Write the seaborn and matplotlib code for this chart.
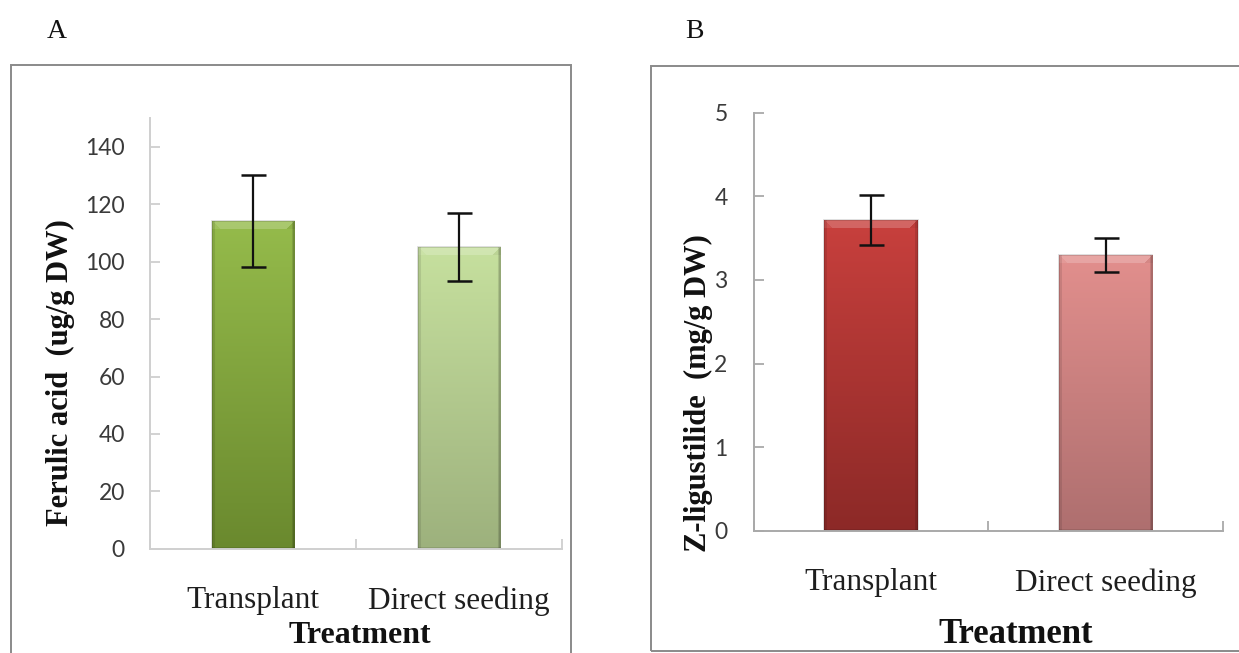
import numpy as np
import pandas as pd
import matplotlib
matplotlib.use("Agg")
import matplotlib.pyplot as plt
from matplotlib.patches import Rectangle
from matplotlib.colors import to_rgb
import seaborn as sns

# ---- data ----
treatments = ["Transplant", "Direct seeding"]
ferulic_mean = [114.2, 105.2]
ferulic_err = [15.9, 11.8]
ligustilide_mean = [3.72, 3.30]
ligustilide_err = [0.30, 0.20]
ferulic_ticks = [0, 20, 40, 60, 80, 100, 120, 140]
ligustilide_ticks = [0, 1, 2, 3, 4, 5]

# colour stops per bar: (top, bottom)
green_stops = [("#95bb4b", "#6a892e"), ("#c6e09e", "#9db17d")]
red_stops = [("#c8403d", "#8c2927"), ("#e28f8d", "#ae6f6f")]

sns.set_theme(style="white")
plt.rcParams["font.family"] = ["Liberation Serif", "DejaVu Serif"]

W, H = 1239, 653
fig = plt.figure(figsize=(W / 100, H / 100), dpi=100)
fig.patch.set_facecolor("white")


def px_axes(left, right, bottom, top):
    return fig.add_axes([left / W, 1 - bottom / H, (right - left) / W, (bottom - top) / H])


def shade_bar(ax, patch, top, bottom):
    """Fill a bar with a vertical gradient and a bevelled top edge."""
    x0, y0 = patch.get_x(), patch.get_y()
    w, h = patch.get_width(), patch.get_height()
    p0 = ax.transData.transform((x0, y0))
    p1 = ax.transData.transform((x0 + w, y0 + h))
    pw = max(int(round(abs(p1[0] - p0[0]))), 2)
    ph = max(int(round(abs(p1[1] - p0[1]))), 2)
    top, bottom = np.array(to_rgb(top)), np.array(to_rgb(bottom))
    t = np.linspace(0, 1, ph)[:, None, None]
    img = (1 - t) * top + t * bottom
    img = np.repeat(img, pw, axis=1)
    # bevelled highlight along the top
    bev = 8
    for r in range(min(bev, ph)):
        for c in range(pw):
            if r < c < pw - 1 - r:
                img[r, c] = img[r, c] * 0.8 + 0.2
            elif c <= r:
                img[r, c] = img[r, c] * 0.9 + 0.1
            else:
                img[r, c] = img[r, c] * 0.95
    # darker side edges
    side = 3
    img[:, :side] *= 0.9
    img[:, -side:] *= 0.88
    img[-2:, :] *= 0.9
    ax.imshow(np.clip(img, 0, 1), extent=(x0, x0 + w, y0, y0 + h), aspect="auto",
              origin="upper", interpolation="bilinear", zorder=2)
    patch.set_facecolor("none")
    patch.set_edgecolor((0, 0, 0, 0.15))
    patch.set_linewidth(1.2)
    patch.set_zorder(2.5)


def draw_panel(ax, means, errs, stops, ticks, ymax, ylabel, ylab_pos, xlab_pos,
               spine_color, tick_pad, xtick_size, xlabel_size, ylabel_size):
    df = pd.DataFrame({"Treatment": treatments, "value": means})
    sns.barplot(data=df, x="Treatment", y="value", hue="Treatment",
                palette=[s[0] for s in stops], width=0.4, errorbar=None,
                legend=False, ax=ax, zorder=2)
    ax.set_xlim(-0.5, 1.5)
    ax.set_ylim(0, ymax)
    for patch, (top, bottom) in zip(ax.patches, stops):
        shade_bar(ax, patch, top, bottom)
    ax.set_xlim(-0.5, 1.5)
    ax.set_ylim(0, ymax)
    ax.errorbar(x=np.arange(len(means)), y=means, yerr=errs, fmt="none",
                ecolor="#111111", elinewidth=1.6, capsize=9, capthick=1.8, zorder=4)

    for side in ("top", "right"):
        ax.spines[side].set_visible(False)
    for side in ("left", "bottom"):
        ax.spines[side].set_color(spine_color)
        ax.spines[side].set_linewidth(1.4)

    ax.set_yticks(ticks)
    ax.set_yticklabels([str(t) for t in ticks], family=["Lato", "DejaVu Sans"],
                       fontsize=16.5, color="#3a3a3a")
    ax.tick_params(axis="y", direction="in", length=7, width=1.3, color=spine_color,
                   pad=tick_pad, left=True)
    ax.set_xticks([0, 1])
    ax.set_xticklabels(treatments, fontsize=xtick_size, color="#1e1e1e")
    ax.set_xticks([-0.5, 0.5, 1.5], minor=True)
    ax.tick_params(axis="x", which="major", length=0, pad=27)
    ax.tick_params(axis="x", which="minor", direction="in", length=7, width=1.3,
                   color=spine_color, bottom=True)

    ax.set_xlabel("Treatment", fontsize=xlabel_size, fontweight="bold", color="#111111")
    ax.xaxis.set_label_coords(*xlab_pos)
    ax.set_ylabel(ylabel, fontsize=ylabel_size, fontweight="bold", color="#111111")
    ax.yaxis.label.set_verticalalignment("center")
    ax.yaxis.set_label_coords(*ylab_pos)
    ax.grid(False)
    ax.set_facecolor("white")


# panel A: ferulic acid
axA = px_axes(150, 562, 548.7, 118.3)
draw_panel(axA, ferulic_mean, ferulic_err, green_stops, ferulic_ticks, 150,
           "Ferulic acid  (ug/g DW)", (-0.218, 0.41), (0.51, -0.168),
           "#cfcfcf", 18, 22.5, 23, 22)

# panel B: Z-ligustilide
axB = px_axes(754, 1222.7, 530.7, 112.7)
draw_panel(axB, ligustilide_mean, ligustilide_err, red_stops, ligustilide_ticks, 5,
           "Z-ligustilide  (mg/g DW)", (-0.119, 0.33), (0.559, -0.208),
           "#a9a9a9", 19, 22.5, 25, 22)

# chart-area frames
for (x0, y0, x1, y1) in [(11, 65, 571, 670), (651, 66, 1260, 651)]:
    fig.patches.append(Rectangle((x0 / W, 1 - y1 / H), (x1 - x0) / W, (y1 - y0) / H,
                                 transform=fig.transFigure, fill=False,
                                 edgecolor="#8a8a8a", linewidth=1.4, clip_on=False))

fig.text(57 / W, 1 - 32 / H, "A", fontsize=20, ha="center", va="center", color="#111111")
fig.text(694 / W, 1 - 32 / H, "B", fontsize=20, ha="center", va="center", color="#111111")

fig.savefig("out.png", dpi=100, facecolor="white")
